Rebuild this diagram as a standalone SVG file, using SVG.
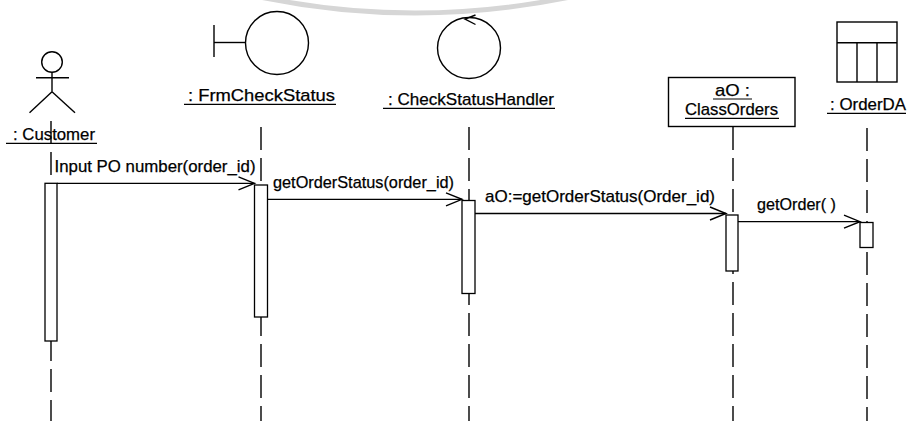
<svg xmlns="http://www.w3.org/2000/svg" width="910" height="421" viewBox="0 0 910 421">
  <style>
    .ln { stroke: #000; stroke-width: 1.4; fill: none; }
    .life { stroke: #000; stroke-width: 1.4; fill: none; stroke-dasharray: 23 8; }
    .act { stroke: #000; stroke-width: 1.3; fill: #fff; }
    .ul { stroke: #000; stroke-width: 1.2; }
    text { font-family: "Liberation Sans", Arial, sans-serif; font-size: 17px; fill: #000; stroke: #000; stroke-width: 0.25; }
    .msg { stroke: #000; stroke-width: 1.3; fill: none; marker-end: url(#open); }
  </style>
  <defs>
    <marker id="open" markerUnits="userSpaceOnUse" markerWidth="20" markerHeight="16" viewBox="-18 -8 20 16" refX="0" refY="0" orient="auto">
      <path d="M -16 -6.5 L 0 0 L -16 6.5" fill="none" stroke="#000" stroke-width="1.4"/>
    </marker>
  </defs>
  <rect width="910" height="421" fill="#fff"/>

  <!-- faint scan arc -->
  <path d="M 255 -4 Q 415 30 575 -4" fill="none" stroke="#d6d6d6" stroke-width="5"/>

  <g id="customer">
    <line class="life" x1="51" y1="121" x2="51" y2="421"/>
    <circle class="ln" cx="52" cy="62" r="10.3"/>
    <line class="ln" x1="52" y1="72.3" x2="52" y2="91.7"/>
    <line class="ln" x1="36" y1="77.7" x2="69" y2="77.7"/>
    <line class="ln" x1="52" y1="91.7" x2="29.5" y2="112.7"/>
    <line class="ln" x1="52" y1="91.7" x2="75" y2="112.7"/>
    <text x="13" y="140" textLength="82" lengthAdjust="spacingAndGlyphs">: Customer</text>
    <line class="ul" x1="6" y1="143.3" x2="97" y2="143.3"/>
    <rect class="act" x="45" y="183.3" width="12" height="157.7"/>
  </g>

  <g id="frmCheckStatus">
    <line class="life" x1="261" y1="127" x2="261" y2="421"/>
    <line class="ln" x1="214" y1="25" x2="214" y2="57"/>
    <line class="ln" x1="214" y1="42.5" x2="245.5" y2="42.5"/>
    <circle class="ln" cx="277" cy="43" r="31.5"/>
    <text x="188" y="101" textLength="147" lengthAdjust="spacingAndGlyphs">: FrmCheckStatus</text>
    <line class="ul" x1="184" y1="104.3" x2="336" y2="104.3"/>
    <rect class="act" x="254.5" y="185" width="13" height="132"/>
  </g>

  <g id="checkStatusHandler">
    <line class="life" x1="469" y1="127" x2="469" y2="421"/>
    <ellipse class="ln" cx="469" cy="48" rx="31.5" ry="30.5"/>
    <polyline class="ln" points="475.5,15 465,19 475.5,24.5"/>
    <text x="388" y="105" textLength="166" lengthAdjust="spacingAndGlyphs">: CheckStatusHandler</text>
    <line class="ul" x1="383" y1="108.3" x2="555" y2="108.3"/>
    <rect class="act" x="462" y="200.5" width="13" height="93"/>
  </g>

  <g id="classOrders">
    <line class="life" x1="733" y1="127" x2="733" y2="421"/>
    <rect class="ln" x="668.5" y="77.5" width="126.5" height="49"/>
    <text x="715" y="96" textLength="35" lengthAdjust="spacingAndGlyphs">aO :</text>
    <line class="ul" x1="713" y1="99" x2="752" y2="99"/>
    <text x="685" y="115" textLength="93" lengthAdjust="spacingAndGlyphs">ClassOrders</text>
    <line class="ul" x1="685" y1="118.3" x2="779" y2="118.3"/>
    <rect class="act" x="726" y="215" width="12" height="56"/>
  </g>

  <g id="orderDA">
    <line class="life" x1="867" y1="128" x2="867" y2="421"/>
    <rect class="ln" x="837" y="22" width="60" height="60"/>
    <line class="ln" x1="837" y1="42.7" x2="897" y2="42.7"/>
    <line class="ln" x1="857" y1="42.7" x2="857" y2="82"/>
    <line class="ln" x1="877" y1="42.7" x2="877" y2="82"/>
    <text x="830" y="110" textLength="76" lengthAdjust="spacingAndGlyphs">: OrderDA</text>
    <line class="ul" x1="827" y1="113.3" x2="906" y2="113.3"/>
    <rect class="act" x="860" y="222.5" width="13" height="25"/>
  </g>

  <g id="connectors">
    <line class="msg" x1="57" y1="183.3" x2="254.5" y2="183.3"/>
    <text x="54.5" y="172" textLength="201" lengthAdjust="spacingAndGlyphs">Input PO number(order_id)</text>
    <line class="msg" x1="267.5" y1="199.3" x2="462" y2="199.3"/>
    <text x="273" y="188" textLength="181" lengthAdjust="spacingAndGlyphs">getOrderStatus(order_id)</text>
    <line class="msg" x1="475" y1="213.5" x2="726" y2="213.5"/>
    <text x="485" y="201.5" textLength="230" lengthAdjust="spacingAndGlyphs">aO:=getOrderStatus(Order_id)</text>
    <line class="msg" x1="738" y1="221.7" x2="860" y2="221.7"/>
    <text x="757" y="210" textLength="79" lengthAdjust="spacingAndGlyphs">getOrder( )</text>
  </g>
</svg>
